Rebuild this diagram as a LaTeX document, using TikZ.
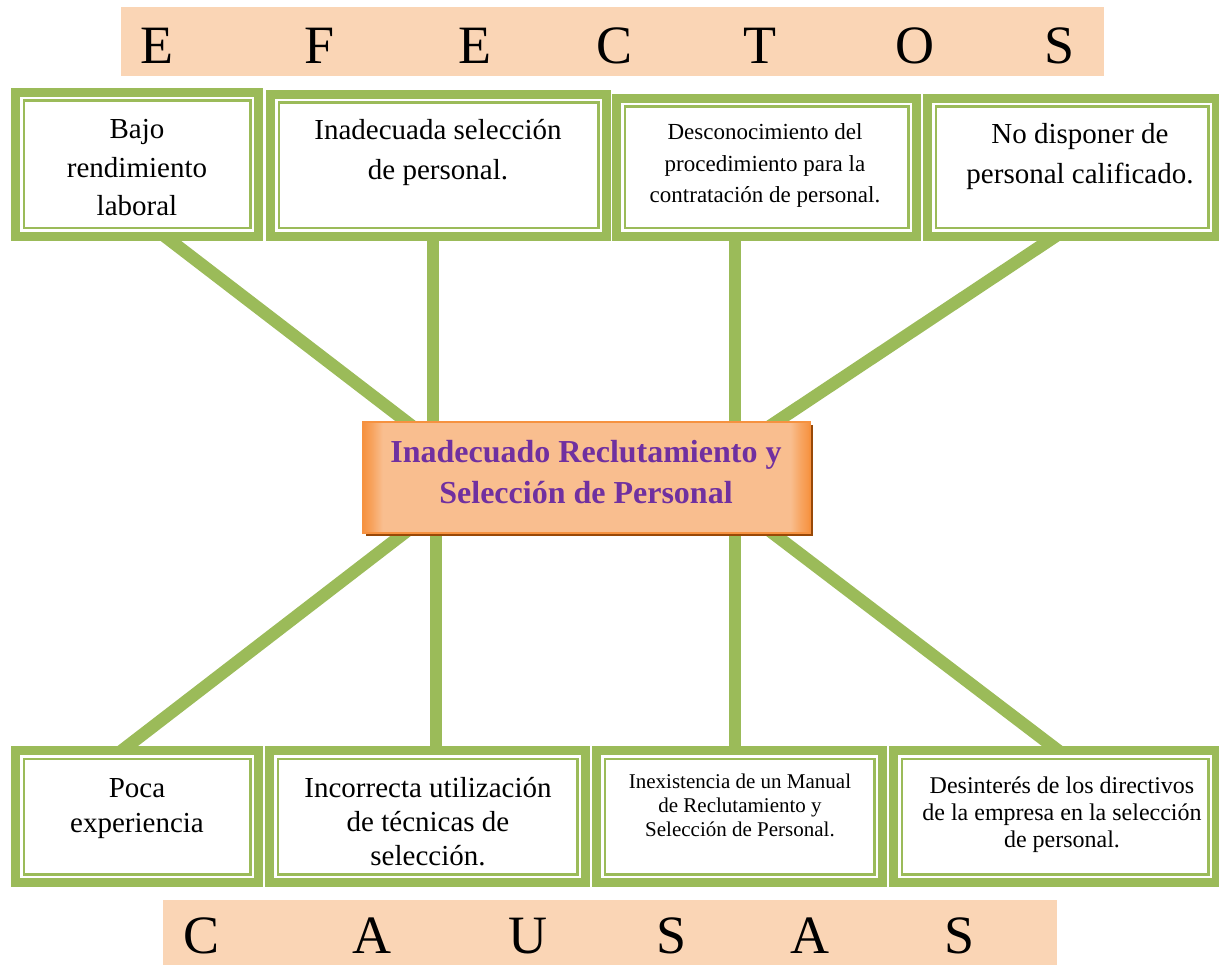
\documentclass[tikz,border=0pt]{standalone}
\usepackage{fontspec}
\setmainfont{Liberation Serif}
\usetikzlibrary{shadows}
\definecolor{gr}{RGB}{155,187,89}
\definecolor{peach}{RGB}{250,213,181}
\definecolor{orng}{RGB}{246,146,64}
\definecolor{lorng}{RGB}{249,190,143}
\definecolor{shadowbrown}{RGB}{152,72,7}
\definecolor{purp}{RGB}{112,48,160}
\pgfdeclarehorizontalshading{probshade}{100bp}{color(0bp)=(orng); color(25bp)=(orng); color(26bp)=(orng!60!lorng); color(27.2bp)=(lorng); color(72.8bp)=(lorng); color(74bp)=(orng!60!lorng); color(75bp)=(orng); color(100bp)=(orng)}
\newcommand{\stk}[1]{\begin{tabular}[t]{@{}c@{}}#1\end{tabular}}
\newcommand{\fsz}[2]{\fontsize{#1}{#2}\selectfont}
\tikzset{
  gbox/.style={rectangle, fill=gr, inner sep=0pt, outer sep=0pt,
    path picture={
      \fill[white] ([shift={(9pt,-9pt)}]path picture bounding box.north west) rectangle ([shift={(-9pt,9pt)}]path picture bounding box.south east);
      \draw[gr, line width=2.5pt] ([shift={(12.75pt,-12.75pt)}]path picture bounding box.north west) rectangle ([shift={(-12.75pt,12.75pt)}]path picture bounding box.south east);
    }},
  conn/.style={draw=gr, line width=12.5pt},
  banner/.style={rectangle, fill=peach, inner sep=0pt, outer sep=0pt},
  bigletter/.style={anchor=base, inner sep=0pt, text depth=0pt, font=\fsz{54}{60}},
  txt/.style={anchor=base, inner sep=0pt},
  problem/.style={rectangle, shading=probshade, draw=orng, line width=1.5pt, inner sep=0pt,
    drop shadow={shadow xshift=3pt, shadow yshift=-3pt, fill=shadowbrown, opacity=1}},
}
\begin{document}
\begin{tikzpicture}[x=1pt, y=-1pt]
\useasboundingbox (0,0) rectangle (1219,965);
\clip (0,0) rectangle (1219,965);

% banners
\node[banner, minimum width=983pt, minimum height=69pt] (top) at (612.5,41.5) {};
\node[banner, minimum width=894pt, minimum height=70pt] (bot) at (610,935) {};
\foreach \ch/\xx [count=\i] in {E/157,F/320,E/475,C/615,T/760,O/915,S/1060}
  \node[bigletter] (ef\i) at (\xx,64) {\ch};
\foreach \ch/\xx [count=\i] in {C/202,A/372,U/528,S/672,A/810,S/960}
  \node[bigletter] (ca\i) at (\xx,953) {\ch};

% connector end points
\coordinate (a1) at (141,218);  \coordinate (a2) at (425,436);
\coordinate (b1) at (433,220);  \coordinate (b2) at (433,440);
\coordinate (c1) at (735,220);  \coordinate (c2) at (735,440);
\coordinate (d1) at (1083,218); \coordinate (d2) at (755,436);
\coordinate (e1) at (433,511);  \coordinate (e2) at (94,772);
\coordinate (f1) at (436,515);  \coordinate (f2) at (436,770);
\coordinate (g1) at (735,515);  \coordinate (g2) at (735,770);
\coordinate (h1) at (745,512);  \coordinate (h2) at (1085,771);
\draw[conn] (a1) -- (a2);
\draw[conn] (b1) -- (b2);
\draw[conn] (c1) -- (c2);
\draw[conn] (d1) -- (d2);
\draw[conn] (e1) -- (e2);
\draw[conn] (f1) -- (f2);
\draw[conn] (g1) -- (g2);
\draw[conn] (h1) -- (h2);

% effect boxes
\node[gbox, minimum width=252pt, minimum height=153pt] (box1) at (137,164.5) {};
\node[gbox, minimum width=345pt, minimum height=151pt] (box2) at (438.5,165.5) {};
\node[gbox, minimum width=309pt, minimum height=147pt] (box3) at (766.5,167.5) {};
\node[gbox, minimum width=298pt, minimum height=147pt] (box4) at (1072,167.5) {};
% cause boxes
\node[gbox, minimum width=252pt, minimum height=141pt] (box5) at (137,816.5) {};
\node[gbox, minimum width=325pt, minimum height=141pt] (box6) at (427.5,816.5) {};
\node[gbox, minimum width=295pt, minimum height=141pt] (box7) at (739.5,816.5) {};
\node[gbox, minimum width=332pt, minimum height=141pt] (box8) at (1055,816.5) {};

% texts
\node[txt] (t1) at (137,139) {\fsz{29}{38.5}\stk{Bajo\\rendimiento\\laboral}};
\node[txt] (t2) at (438,140) {\fsz{29}{40}\stk{Inadecuada selección\\de personal.}};
\node[txt] (t3) at (765,140) {\fsz{23}{31.5}\stk{Desconocimiento del\\procedimiento para la\\contratación de personal.}};
\node[txt] (t4) at (1080,144) {\fsz{29}{40}\stk{No disponer de\\personal calificado.}};
\node[txt] (t5) at (137,797) {\fsz{29}{35}\stk{Poca\\experiencia}};
\node[txt] (t6) at (428,797) {\fsz{29}{34}\stk{Incorrecta utilización\\de técnicas de\\selección.}};
\node[txt] (t7) at (740,788) {\fsz{21}{24}\stk{Inexistencia de un Manual\\de Reclutamiento y\\Selección de Personal.}};
\node[txt] (t8) at (1062,793) {\fsz{24}{27}\stk{Desinterés de los directivos\\de la empresa en la selección\\de personal.}};

% central problem
\node[problem, minimum width=447pt, minimum height=111pt] (prob) at (586.5,477.5) {};
\node[txt, text=purp] (pt) at (586,463) {\fsz{32}{41}\bfseries\stk{Inadecuado Reclutamiento y\\Selección de Personal}};
\end{tikzpicture}
\end{document}
